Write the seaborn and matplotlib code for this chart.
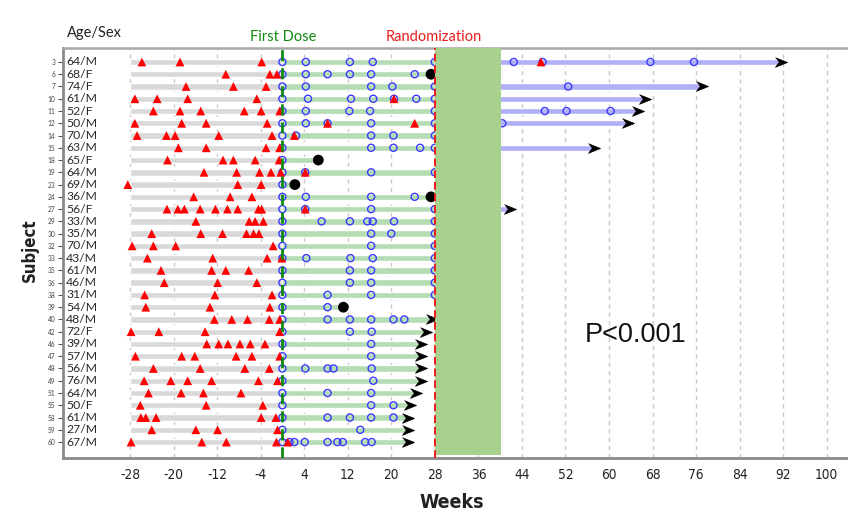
import numpy as np
import pandas as pd
import matplotlib
matplotlib.use("Agg")
import matplotlib.pyplot as plt
from matplotlib.patches import Rectangle
from matplotlib.transforms import blended_transform_factory
import seaborn as sns

# ---------------- data ----------------
subjects = [3, 6, 7, 10, 11, 12, 14, 15, 18, 19, 23, 24, 27, 29, 30, 32,
            33, 35, 36, 38, 39, 40, 42, 46, 47, 48, 49, 51, 55, 58, 59, 60]
age_sex = ["64/M", "68/F", "74/F", "61/M", "52/F", "50/M", "70/M", "63/M", "65/F", "64/M",
           "69/M", "36/M", "56/F", "33/M", "35/M", "70/M", "43/M", "61/M", "46/M", "31/M",
           "54/M", "48/M", "72/F", "39/M", "57/M", "56/M", "76/M", "64/M", "50/F", "61/M",
           "27/M", "67/M"]
screen_start = -28
green_end = [28, 27.3, 28, 28, 28, 28, 28, 28, 6.6, 28, 2.3, 27.3, 28, 28, 28, 28,
             28, 28, 28, 28, 11.2, 27.4, 26.4, 25.4, 25.4, 25.4, 25.4, 24.6, 23.4, 23.1,
             23.1, 23.1]
green_ongoing = [False] * 21 + [True] * 11
blue_end = [91.6, None, 77.0, 66.7, 65.3, 63.4, None, 57.2, None, None, None, None,
            41.8, None, None, None, None, None, None, None, None, None, None, None,
            None, None, None, None, None, None, None, None]
triangles = [
    [-25.8, -18.8, -3.8, 47.5],
    [-10.4, -2.3, -1.0],
    [-17.7, -9.0, -3.0],
    [-27.1, -23.0, -17.4, -4.7, 20.5],
    [-23.7, -18.8, -15.0, -7.0, -3.9, -0.5],
    [-27.1, -18.5, -14.0, -2.8, 8.3, 24.3],
    [-26.7, -21.3, -19.7, -11.7, -1.9, 2.2],
    [-19.1, -14.0, -3.0, -0.5],
    [-21.1, -10.9, -9.0, -5.0, -0.6],
    [-14.4, -8.4, -4.2, -2.1, -0.3, 4.2],
    [-28.4, -8.2, -3.9],
    [-16.3, -9.6, -5.6],
    [-21.2, -19.2, -18.0, -15.1, -12.3, -10.1, -8.2, -4.4, -3.8, 4.2],
    [-15.9, -6.1, -5.0, -3.5],
    [-24.0, -15.0, -11.0, -6.6, -5.3, -4.3],
    [-27.6, -23.7, -19.6, -1.7],
    [-24.8, -12.8, -2.8, -0.1],
    [-22.3, -13.0, -10.4, -6.2],
    [-21.7, -11.9, -4.7],
    [-25.3, -12.4, -1.9],
    [-25.1, -13.3, -2.3],
    [-12.5, -9.3, -6.4, -2.4, -0.5],
    [-27.8, -22.7, -14.2, -0.5],
    [-13.9, -11.7, -10.0, -7.8, -5.9, -3.2],
    [-27.0, -18.5, -16.1, -8.5, -5.6, -0.5],
    [-23.7, -15.1, -6.9, -2.4],
    [-25.4, -20.5, -17.4, -13.0, -4.4, -0.9],
    [-24.6, -18.6, -14.5, -7.6],
    [-26.1, -14.0, -3.6],
    [-26.0, -25.1, -23.2, -3.9, -1.2],
    [-24.0, -15.9, -11.9, -0.9],
    [-27.8, -14.8, -10.3, -1.1, 1.0],
]
circles = [
    [0, 4.3, 12.4, 16.6, 28, 42.5, 47.8, 67.6, 75.6],
    [0, 4.3, 8.3, 12.4, 16.3, 24.3],
    [0, 4.3, 16.3, 20.2, 28, 52.5],
    [0, 4.7, 12.6, 16.7, 20.5, 24.6, 28],
    [0, 4.3, 12.3, 16.1, 28, 48.2, 52.2, 60.3],
    [0, 4.3, 8.3, 16.3, 28, 40.4],
    [0, 2.5, 16.3, 20.4, 28],
    [0, 16.3, 20.4, 25.3, 28],
    [0],
    [0, 4.2, 16.3, 28],
    [0],
    [0, 4.3, 16.3, 24.3],
    [0, 4.2, 16.3, 28],
    [0, 7.2, 12.4, 15.6, 16.6, 20.5, 28],
    [0, 16.3, 20.0, 28],
    [0, 16.3, 28],
    [0, 4.4, 12.5, 16.6, 28],
    [0, 12.4, 16.3, 28],
    [0, 12.4, 16.3, 28],
    [0, 8.3, 16.3, 28],
    [0, 8.3],
    [0, 8.3, 12.4, 16.3, 20.4, 22.4],
    [0, 12.4, 16.4],
    [0, 16.3],
    [0, 16.3],
    [0, 4.2, 8.3, 9.4, 16.4],
    [0, 16.7],
    [0, 8.3, 16.3],
    [0, 16.3, 20.4],
    [0, 8.3, 12.4, 16.3, 20.4],
    [0, 14.3],
    [0, 1.3, 2.2, 4.1, 8.3, 10.1, 11.1, 15.2, 16.4],
]
deaths = [None, 27.3, None, None, None, None, None, None, 6.6, None, 2.3, 27.3,
          None, None, None, None, None, None, None, None, 11.2, None, None, None,
          None, None, None, None, None, None, None, None]
first_dose = 0
randomization = 28
washout_end = 40.1
xticks = list(range(-28, 101, 8))
p_text = "P<0.001"

# ---------------- frames ----------------
rows = np.arange(len(subjects))
tri_df = pd.DataFrame([(w, i) for i, lst in enumerate(triangles) for w in lst], columns=["week", "row"])
cir_df = pd.DataFrame([(w, i) for i, lst in enumerate(circles) for w in lst], columns=["week", "row"])
dth_df = pd.DataFrame([(w, i) for i, w in enumerate(deaths) if w is not None], columns=["week", "row"])
arr_g = pd.DataFrame([(green_end[i], i) for i in rows if green_ongoing[i]], columns=["week", "row"])
arr_b = pd.DataFrame([(blue_end[i], i) for i in rows if blue_end[i] is not None], columns=["week", "row"])

# ---------------- plot ----------------
sns.set_style("white")
plt.rcParams["font.family"] = ["Lato", "DejaVu Sans"]
narrow = {"family": ["DejaVu Sans"], "stretch": "condensed"}

W, H = 848, 513
fig = plt.figure(figsize=(W / 100, H / 100), dpi=100)
ax = fig.add_axes([63 / W, 55 / H, (W - 63) / W, 410 / H])

ax.set_xlim(-40.3, 103.9)
ax.set_ylim(32.3, -1.14)

bar_h = 0.52
ax.barh(rows, [first_dose - screen_start] * len(rows), left=screen_start, height=bar_h,
        color="#d9d9d9", zorder=2)
ax.barh(rows, [g - first_dose for g in green_end], left=first_dose, height=bar_h,
        color="#b5dcb3", zorder=2)
b_rows = [i for i in rows if blue_end[i] is not None]
ax.barh(b_rows, [blue_end[i] - randomization for i in b_rows], left=randomization,
        height=bar_h, color="#b0b0f8", zorder=2)

arrow = [(-1, 0.8), (1, 0), (-1, -0.8), (-0.4, 0)]
sns.scatterplot(data=arr_g, x="week", y="row", marker=arrow, s=75, color="black",
                edgecolor="black", linewidth=0.5, zorder=3, ax=ax, legend=False)
sns.scatterplot(data=arr_b, x="week", y="row", marker=arrow, s=75, color="black",
                edgecolor="black", linewidth=0.5, zorder=3, ax=ax, legend=False)
sns.scatterplot(data=cir_df, x="week", y="row", marker="o", s=26, fc="none",
                ec="#3a3aff", linewidth=1.0, zorder=3.2, ax=ax, legend=False)
sns.scatterplot(data=tri_df, x="week", y="row", marker="^", s=40, color="#ff0000",
                edgecolor="none", linewidth=0, zorder=3.4, ax=ax, legend=False)
sns.scatterplot(data=dth_df, x="week", y="row", marker="o", s=60, color="black",
                edgecolor="none", linewidth=0, zorder=3.6, ax=ax, legend=False)

ax.add_patch(Rectangle((randomization, -1.14), washout_end - randomization, 33.2,
                       facecolor="#a9d18e", edgecolor="none", zorder=4))
ax.axvline(randomization, color="#ee1c1c", lw=1.4, ls=(0, (4, 2)), zorder=5)
ax.axvline(first_dose, color="#0f8a0f", lw=2.0, ls=(0, (4, 2.5)), zorder=5)

ax.set_xticks(xticks)
ax.set_xticklabels([str(t) for t in xticks], fontdict={**narrow, "size": 9.8},
                   color="#222222")
ax.tick_params(axis="x", length=0, pad=7)
ax.grid(axis="x", ls=(0, (3, 3)), color="#c8c8c8", lw=1.0, zorder=0)
ax.grid(axis="y", visible=False)
ax.set_axisbelow(True)

ax.set_yticks(rows)
ax.set_yticklabels([str(s) for s in subjects], fontsize=4.8, color="#444444")
ax.tick_params(axis="y", length=3.5, width=0.8, color="#555555", pad=2, left=True)

trans = blended_transform_factory(ax.transAxes, ax.transData)
for i, lab in enumerate(age_sex):
    ax.text(0.004, i, lab, transform=trans, va="center", ha="left", fontsize=8.8,
            color="#2a2a2a", zorder=6)

for side in ["left", "bottom"]:
    ax.spines[side].set_color("#8a8a8a")
    ax.spines[side].set_linewidth(2.0)
ax.spines["top"].set_color("#a8a8a8")
ax.spines["top"].set_linewidth(1.8)
ax.spines["right"].set_visible(False)
ax.set_xlabel("")
ax.set_ylabel("")

fig.text(67 / W, 1 - 33 / H, "Age/Sex", fontsize=10.5, color="#222222", va="center", ha="left")
fig.text(283 / W, 1 - 37 / H, "First Dose", fontsize=10.5, color="#0f8a0f", va="center", ha="center")
fig.text(434 / W, 1 - 37 / H, "Randomization", fontsize=10.5, color="#ee1c1c", va="center", ha="center")
fig.text(452 / W, 1 - 503 / H, "Weeks", fontsize=14, fontweight="bold", fontstretch="condensed",
         family=["DejaVu Sans"], color="#222222", va="center", ha="center")
fig.text(30 / W, 1 - 250 / H, "Subject", fontsize=12, fontweight="bold", rotation=90,
         fontstretch="condensed", family=["DejaVu Sans"], color="#222222",
         va="center", ha="center")
fig.text(636 / W, 1 - 335 / H, p_text, fontsize=19.5, family=["Liberation Sans", "DejaVu Sans"],
         color="#111111", va="center", ha="center")

fig.savefig("out.png", dpi=100)
